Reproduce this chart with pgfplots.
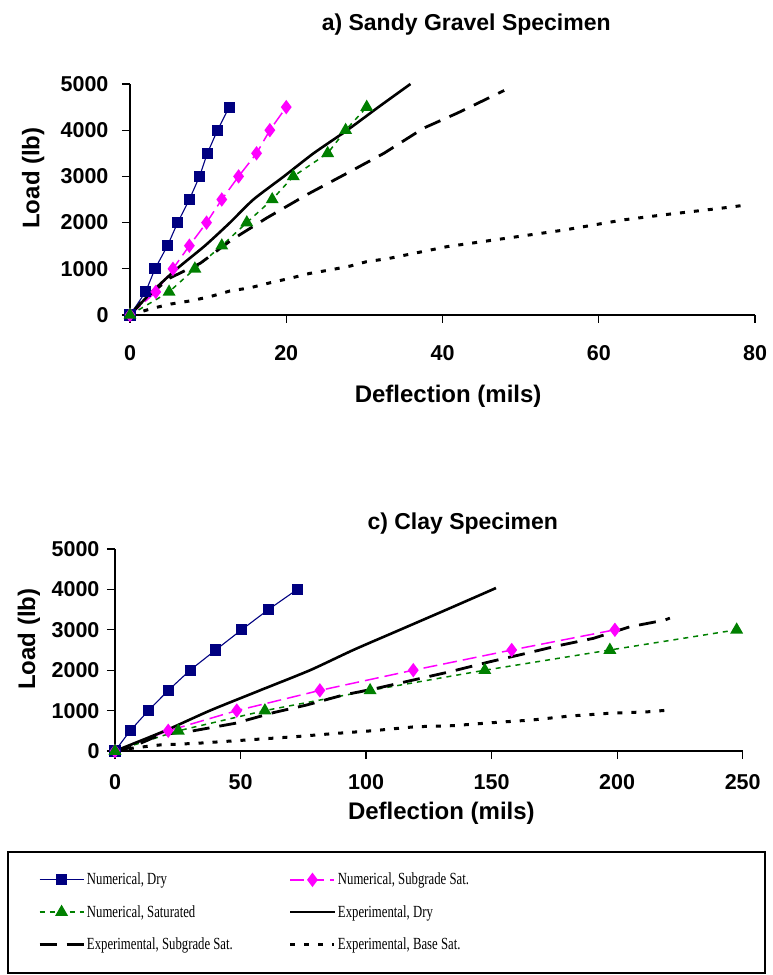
\documentclass[border=0pt]{standalone}
\usepackage{fontspec}
\setmainfont{Liberation Sans}
\newfontfamily\legfont[FakeStretch=0.75]{Liberation Serif}
\usepackage{pgfplots}
\pgfplotsset{compat=1.18}

\definecolor{numdry}{RGB}{0,0,128}
\definecolor{numsub}{RGB}{255,0,255}
\definecolor{numsat}{RGB}{0,128,0}

\pgfplotsset{
  loadaxis/.style={
    scale only axis,
    axis x line*=bottom, axis y line*=left,
    axis line style={line width=1.4pt},
    tick align=outside,
    major tick length=8pt,
    major tick style={line width=1.2pt, black},
    tick label style={font=\bfseries\fontsize{21.5}{21.5}\selectfont},
    /pgf/number format/assume math mode=true,
    /pgf/number format/1000 sep={},
    scaled ticks=false,
    ymin=0, ymax=5000, ytick={0,1000,...,5000},
    label style={font=\bfseries\fontsize{24}{24}\selectfont},
    title style={font=\bfseries\fontsize{23}{23}\selectfont},
    clip=false,
    legend image code/.code={
      \draw[mark repeat=2,mark phase=2,##1] plot coordinates {(0pt,0pt) (22pt,0pt) (44pt,0pt)};
    },
  },
  numdry/.style={color=numdry, line width=1.1pt, mark=square*, mark size=5pt, mark options={solid}},
  numsub/.style={color=numsub, line width=1.5pt, dash pattern=on 14pt off 6pt, mark=diamond*, mark size=6pt, mark options={solid}},
  numsat/.style={color=numsat, line width=1.5pt, dash pattern=on 5pt off 5pt, mark=triangle*, mark size=6pt, mark options={solid}},
  expdry/.style={black, line width=2.6pt, no markers, smooth, tension=0.4},
  expsub/.style={black, line width=2.8pt, dash pattern=on 17pt off 10pt, no markers},
  expbase/.style={black, line width=3pt, dash pattern=on 5pt off 9pt, no markers},
}

\begin{document}
\begin{tikzpicture}
\path[use as bounding box] (0pt,0pt) rectangle (772pt,975pt);

% a) Sandy gravel specimen
\begin{axis}[loadaxis,
  at={(130pt,660pt)}, anchor=south west,
  width=625pt, height=231pt,
  xmin=0, xmax=80, xtick={0,20,...,80},
  xticklabel style={yshift=-19pt},
  yticklabel style={xshift=-10pt},
  xlabel={Deflection (mils)}, ylabel={Load (lb)},
  title={a) Sandy Gravel Specimen},
  xlabel style={at={(axis description cs:0.509,-0.351)}, anchor=center},
  ylabel style={at={(axis description cs:-0.155,0.593)}, anchor=center},
  title style={at={(axis description cs:0.538,1.233)}, anchor=center},
]
\addplot[numdry] coordinates {(0,0) (2,500) (3.2,1000) (4.8,1500) (6.1,2000) (7.6,2500) (8.9,3000) (9.9,3500) (11.2,4000) (12.7,4500)};
\addplot[numsub] coordinates {(0,0) (3.3,500) (5.5,1000) (7.6,1500) (9.8,2000) (11.75,2500) (13.9,3000) (16.2,3500) (17.9,4000) (20,4500)};
\addplot[numsat] coordinates {(0,0) (5,500) (8.3,1000) (11.75,1500) (14.95,2000) (18.2,2500) (20.9,3000) (25.3,3500) (27.6,4000) (30.3,4500)};
\addplot[expdry] coordinates {(0,0) (2.8,500) (6.0,1000) (9.6,1500) (12.8,2000) (15.8,2500) (19.7,3000) (23.5,3500) (27.8,4000) (31.8,4500) (35.9,5000)};
\addplot[expsub] coordinates {(0,0) (1.7,325) (5.1,800) (9.0,1120) (13.0,1625) (17.5,2100) (22.8,2620) (27.8,3070) (32.5,3500) (37.6,4046) (41.9,4370) (47.9,4860)};
\addplot[expbase] coordinates {(0,0) (3,150) (5.3,240) (7.9,310) (10.3,400) (12.8,520) (15.4,590) (18,700) (20.5,795) (23,900) (25.6,975) (28.2,1060) (30.3,1155) (33,1220) (40.6,1480) (48.1,1660) (55.6,1840) (63.2,2060) (68.4,2170) (75.6,2310) (78.4,2370)};
\end{axis}

% c) Clay specimen
\begin{axis}[loadaxis,
  at={(115pt,224pt)}, anchor=south west,
  width=627.7pt, height=202pt,
  xmin=0, xmax=250, xtick={0,50,...,250},
  xticklabel style={yshift=-12pt},
  yticklabel style={xshift=-4pt},
  xlabel={Deflection (mils)}, ylabel={Load (lb)},
  title={c) Clay Specimen},
  xlabel style={at={(axis description cs:0.52,-0.307)}, anchor=center},
  ylabel style={at={(axis description cs:-0.137,0.554)}, anchor=center},
  title style={at={(axis description cs:0.554,1.094)}, anchor=center},
  legend columns=2,
  legend cell align=left,
  legend style={draw=none, fill=none, inner sep=0pt,
    at={(axis description cs:-0.1227,-0.594)}, anchor=north west,
    font=\legfont\fontsize{17}{17}\selectfont, row sep=15pt},
]
\addplot[numdry] coordinates {(0,0) (6,500) (13.3,1000) (21.2,1500) (29.9,2000) (40.1,2500) (50.4,3000) (61.1,3500) (72.6,4000)};
\addlegendentry{\makebox[200pt][l]{Numerical, Dry}}
\addplot[numsub] coordinates {(0,0) (21.2,500) (48.5,1000) (81.6,1500) (118.8,2000) (158,2500) (199.1,3000)};
\addlegendentry{Numerical, Subgrade Sat.}
\addplot[numsat] coordinates {(0,0) (25.2,500) (59.7,1000) (101.6,1500) (147.3,2000) (197.1,2500) (247.6,3000)};
\addlegendentry{\makebox[200pt][l]{Numerical, Saturated}}
\addplot[expdry] coordinates {(0,0) (19.9,500) (37.8,1000) (57.7,1500) (77.7,2000) (94.9,2500) (113.5,3000) (132.1,3500) (150.5,4000) (151.3,4025)};
\addlegendentry{Experimental, Dry}
\addplot[expsub] coordinates {(0,0) (6,80) (17.9,400) (31.2,500) (47.8,685) (63,948) (76.3,1138) (90.9,1385) (104.2,1551) (118.8,1757) (133.4,1962) (149.3,2209) (162.6,2400) (175.9,2598) (190.5,2788) (205.1,3075) (219,3241) (221,3290)};
\addlegendentry{\makebox[200pt][l]{Experimental, Subgrade Sat.}}
\addplot[expbase] coordinates {(0,0) (8,80) (17.9,150) (32.5,190) (48.5,256) (71.7,354) (88.3,437) (102.9,503) (119.5,600) (134.7,627) (150,700) (166,767) (181.2,866) (196.5,932) (213,973) (220.7,1014)};
\addlegendentry{Experimental, Base Sat.}
\end{axis}

\draw[line width=1.5pt] (8pt,2pt) rectangle (765pt,123pt);
\end{tikzpicture}
\end{document}
